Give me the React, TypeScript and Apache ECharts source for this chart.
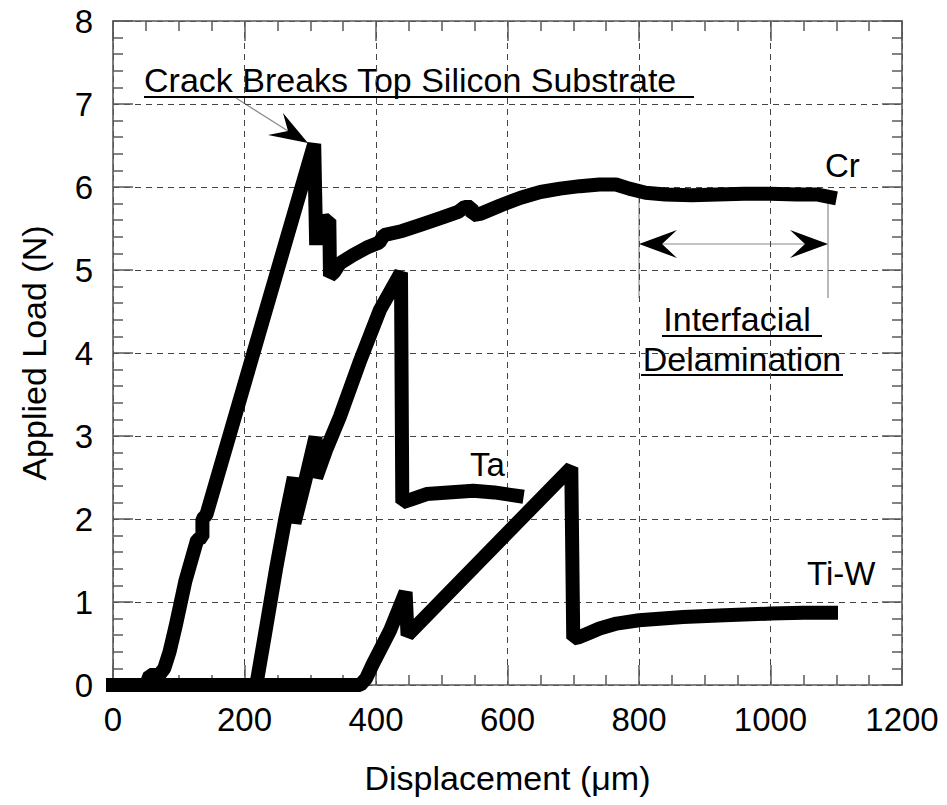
import React, { useEffect, useRef } from "react";
import * as echarts from "echarts";

// Displacement (µm) / Applied load (N)
const crX = [0, 50, 56, 70, 78, 86, 95, 110, 128, 136, 136, 142, 306, 309, 310, 329, 330, 336, 345, 365, 386, 405, 412, 440, 470, 500, 525, 535, 545, 547, 560, 590, 620, 650, 680, 710, 740, 765, 785, 810, 840, 880, 920, 960, 1000, 1040, 1070, 1090];
const crY = [0, 0, 0.12, 0.12, 0.2, 0.4, 0.7, 1.25, 1.75, 1.78, 2.0, 2.05, 6.52, 5.3, 5.58, 5.6, 4.93, 4.97, 5.08, 5.18, 5.27, 5.33, 5.42, 5.47, 5.55, 5.63, 5.7, 5.76, 5.76, 5.66, 5.68, 5.78, 5.87, 5.94, 5.98, 6.01, 6.03, 6.03, 5.98, 5.93, 5.91, 5.9, 5.91, 5.92, 5.92, 5.91, 5.91, 5.88];

const taX = [0, 213, 219, 232, 248, 262, 275, 276, 292, 308, 309, 325, 345, 376, 406, 438, 440, 455, 477, 510, 548, 580, 614];
const taY = [0, 0, 0.05, 0.65, 1.4, 2.0, 2.5, 1.95, 2.45, 2.99, 2.5, 2.85, 3.23, 3.91, 4.52, 4.97, 2.2, 2.24, 2.3, 2.32, 2.34, 2.32, 2.28];

const tiwX = [0, 376, 385, 395, 421, 445, 448, 697, 700, 710, 725, 740, 766, 800, 867, 930, 1000, 1050, 1092];
const tiwY = [0, 0, 0.08, 0.25, 0.65, 1.12, 0.6, 2.62, 0.56, 0.58, 0.63, 0.68, 0.74, 0.78, 0.82, 0.84, 0.86, 0.87, 0.87];

const xTicks = [0, 200, 400, 600, 800, 1000, 1200];
const yTicks = [0, 1, 2, 3, 4, 5, 6, 7, 8];

const seriesNames = ["Cr", "Ta", "Ti-W"];

const FONT = "'Liberation Sans', Arial, Helvetica, sans-serif";
const AXIS_GRAY = "#5a5a5a";

const zip = (xs: number[], ys: number[]) => xs.map((x, i) => [x, ys[i]]);

export default function App() {
  const ref = useRef<HTMLDivElement>(null);

  useEffect(() => {
    if (!ref.current) return;
    const chart = echarts.init(ref.current, null, { renderer: "svg" });

    const xMin = xTicks[0];
    const xMax = xTicks[xTicks.length - 1];
    const xInt = xTicks[1] - xTicks[0];
    const yMin = yTicks[0];
    const yMax = yTicks[yTicks.length - 1];
    const yInt = yTicks[1] - yTicks[0];

    const axisCommon = {
      type: "value" as const,
      axisLine: { show: true, onZero: false, lineStyle: { color: AXIS_GRAY, width: 1.6 } },
      axisTick: { show: true, inside: true, length: 20, lineStyle: { color: AXIS_GRAY, width: 1.5 } },
      minorTick: { show: true, length: 10, lineStyle: { color: AXIS_GRAY, width: 1.5 } },
    };

    const txt = (text: string, x: number, y: number, align: string, size = 33) => ({
      type: "text",
      x,
      y,
      silent: true,
      style: {
        fill: "#000",
        font: `${size}px ${FONT}`,
        fontSize: size,
        fontFamily: FONT,
        text,
        textAlign: align,
        align,
        textVerticalAlign: "middle",
        verticalAlign: "middle",
      },
    });
    const ln = (x1: number, y1: number, x2: number, y2: number, color: string, w: number) => ({
      type: "line",
      silent: true,
      shape: { x1, y1, x2, y2 },
      style: { stroke: color, lineWidth: w },
    });
    const poly = (pts: number[][]) => ({
      type: "polygon",
      silent: true,
      shape: { points: pts },
      style: { fill: "#000", stroke: "none" },
    });

    const option: any = {
      animation: false,
      backgroundColor: "#ffffff",
      textStyle: { fontFamily: FONT },
      grid: { left: 113, top: 21, right: 45, bottom: 120, containLabel: false },
      xAxis: [
        {
          ...axisCommon,
          position: "bottom",
          min: xMin,
          max: xMax,
          interval: xInt,
          minorTick: { ...axisCommon.minorTick, splitNumber: 4 },
          name: "Displacement (μm)",
          nameLocation: "middle",
          nameGap: 76,
          nameTextStyle: { fontSize: 34, color: "#000", fontFamily: FONT },
          axisLabel: {
            fontSize: 33,
            color: "#000",
            margin: 18,
            fontFamily: FONT,
            formatter: (v: number) => String(v),
          },
          splitLine: { show: true, lineStyle: { color: "#444", type: [6, 5], width: 1 } },
        },
        {
          ...axisCommon,
          position: "top",
          min: xMin,
          max: xMax,
          interval: xInt,
          minorTick: { ...axisCommon.minorTick, splitNumber: 4 },
          axisLabel: { show: false },
          splitLine: { show: false },
        },
      ],
      yAxis: [
        {
          ...axisCommon,
          position: "left",
          min: yMin,
          max: yMax,
          interval: yInt,
          minorTick: { ...axisCommon.minorTick, splitNumber: 5 },
          name: "Applied Load (N)",
          nameLocation: "middle",
          nameGap: 62,
          nameRotate: 90,
          nameTextStyle: { fontSize: 34, color: "#000", fontFamily: FONT },
          axisLabel: {
            fontSize: 33,
            color: "#000",
            margin: 20,
            fontFamily: FONT,
            formatter: (v: number) => String(v),
          },
          splitLine: { show: true, lineStyle: { color: "#444", type: [6, 5], width: 1 } },
        },
        {
          ...axisCommon,
          position: "right",
          min: yMin,
          max: yMax,
          interval: yInt,
          minorTick: { ...axisCommon.minorTick, splitNumber: 5 },
          axisLabel: { show: false },
          splitLine: { show: false },
        },
      ],
      series: [
        [crX, crY],
        [taX, taY],
        [tiwX, tiwY],
      ].map(([xs, ys], i) => ({
        name: seriesNames[i],
        type: "line",
        xAxisIndex: 0,
        yAxisIndex: 0,
        data: zip(xs, ys),
        showSymbol: false,
        symbol: "none",
        clip: false,
        lineStyle: { color: "#000", width: 14, cap: "square", join: "bevel" },
        z: 3,
      })),
      graphic: [
        // Crack annotation
        txt("Crack Breaks Top Silicon Substrate", 144, 80, "left", 34),
        ln(144, 97, 694, 97, "#000", 2),
        ln(236, 98, 288, 131, "#8a8a8a", 1.2),
        poly([[308, 143], [283, 113], [288, 131], [268, 135]]),
        // Interfacial delamination annotation
        ln(639, 197, 639, 298, "#8a8a8a", 1.2),
        ln(828, 197, 828, 298, "#8a8a8a", 1.2),
        ln(650, 244, 818, 244, "#8a8a8a", 1.2),
        poly([[639, 244], [677, 230], [662, 244], [677, 258]]),
        poly([[828, 244], [790, 230], [805, 244], [790, 258]]),
        txt("Interfacial", 737, 319, "center", 34),
        ln(662, 336, 822, 336, "#000", 2),
        txt("Delamination", 742, 359, "center", 34),
        ln(641, 375, 843, 375, "#000", 2),
        // Series labels
        txt(seriesNames[0], 825, 165, "left", 33),
        txt(seriesNames[1], 470, 464, "left", 33),
        txt(seriesNames[2], 807, 573, "left", 33),
      ],
    };

    chart.setOption(option);
    return () => chart.dispose();
  }, []);

  return (
    <div
      ref={ref}
      style={{ position: "fixed", left: 0, top: 0, width: 947, height: 805, background: "#fff" }}
    />
  );
}
